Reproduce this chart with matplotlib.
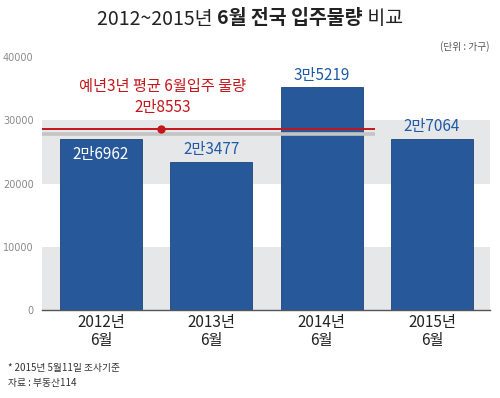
import matplotlib
matplotlib.use("Agg")
import matplotlib.pyplot as plt

plt.rcParams['font.family'] = ['Noto Sans CJK KR', 'DejaVu Sans']

categories = ["2012년\n6월", "2013년\n6월", "2014년\n6월", "2015년\n6월"]
values = [26962, 23477, 35219, 27064]
value_labels = ["2만6962", "2만3477", "3만5219", "2만7064"]
avg_value = 28553
avg_label = "예년3년 평균 6월입주 물량\n2만8553"
yticks = [0, 10000, 20000, 30000, 40000]

bar_color = "#27589a"
label_blue = "#1f5aa6"
red = "#c4161c"
band = "#e6e7e9"

fig = plt.figure(figsize=(5.0, 3.98), dpi=100)
ax = fig.add_axes([42/500, 1-310/398, 448/500, 253/398])

xs = list(range(len(values)))
ax.set_xlim(-0.534, 3.525)
ax.set_ylim(0, 40000)

# gray bands
for lo, hi in [(0, 10000), (20000, 30000)]:
    ax.axhspan(lo, hi, color=band, zorder=0, lw=0)

ax.bar(xs, values, width=0.742, color=bar_color, edgecolor="#1d4577", linewidth=0.6, zorder=2)

# average line with shadow
line_end = 2.48
ax.plot([-0.534, line_end], [avg_value - 650, avg_value - 650], color="#c4c4c4", lw=2.6, zorder=3, solid_capstyle='butt')
ax.plot([-0.534, line_end], [avg_value, avg_value], color=red, lw=1.4, zorder=4, solid_capstyle='butt')
ax.plot([0.545], [avg_value], 'o', color=red, ms=5, zorder=5)
ax.text(0.56, 33700, avg_label, color=red, fontsize=11, ha='center', va='center',
        linespacing=1.35, zorder=6)

# value labels
ax.text(xs[0], values[0] - 2300, value_labels[0], color='white', fontsize=11, ha='center', va='center', zorder=6)
for i in range(1, 4):
    ax.text(xs[i], values[i] + 1900, value_labels[i], color=label_blue, fontsize=11,
            ha='center', va='center', zorder=6)

ax.set_yticks(yticks)
ax.set_yticklabels([str(v) for v in yticks], fontsize=7, color="#8a8a8a", family=['DejaVu Sans'])
ax.set_xticks(xs)
ax.set_xticklabels(categories, fontsize=11, color="#222222", linespacing=1.1)
ax.tick_params(axis='both', length=0)
ax.tick_params(axis='y', pad=6)
ax.tick_params(axis='x', pad=3)
for s in ['top', 'right', 'left']:
    ax.spines[s].set_visible(False)
ax.spines['bottom'].set_color("#555555")
ax.spines['bottom'].set_linewidth(1.0)

# title
from matplotlib.offsetbox import TextArea, HPacker, AnchoredOffsetbox
t1 = TextArea("2012~2015년 ", textprops=dict(fontsize=14, color="#222222"))
t2 = TextArea("6월 전국 입주물량", textprops=dict(fontsize=14, color="#222222", fontweight='bold'))
t3 = TextArea(" 비교", textprops=dict(fontsize=14, color="#222222"))
pack = HPacker(children=[t1, t2, t3], align='baseline', pad=0, sep=0)
ab = AnchoredOffsetbox(loc='center', child=pack, pad=0, frameon=False,
                       bbox_to_anchor=(0.5, 1-19/398), bbox_transform=fig.transFigure, borderpad=0)
fig.add_artist(ab)

fig.text(490/500, 1-47/398, "(단위 : 가구)", fontsize=7, color="#555555", ha='right', va='center')
fig.text(8/500, 1-368/398, "* 2015년 5월11일 조사기준", fontsize=7, color="#333333", ha='left', va='center')
fig.text(8/500, 1-383/398, "자료 : 부동산114", fontsize=7, color="#333333", ha='left', va='center')

fig.savefig("out.png", dpi=100, facecolor='white')
